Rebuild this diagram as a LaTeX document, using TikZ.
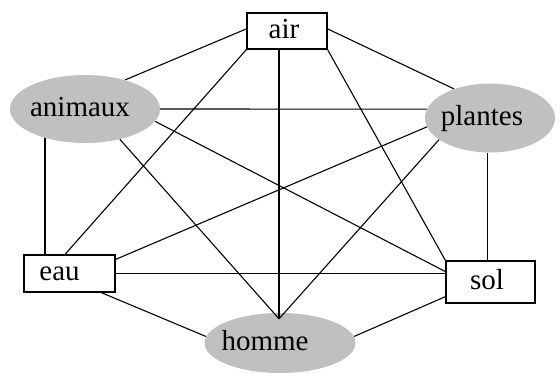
\documentclass[tikz,border=0pt]{standalone}
\usepackage{fontspec}
\setmainfont{Liberation Serif}
\usetikzlibrary{shapes.geometric}
\definecolor{blobgrey}{RGB}{192,192,192}
\pgfdeclarelayer{edges}
\pgfsetlayers{edges,main}
\begin{document}
\begin{tikzpicture}[x=1pt,y=-1pt,
  every node/.style={font=\fontsize{29}{32}\selectfont, inner sep=0pt,
    text height=20pt, text depth=6pt},
  box/.style={rectangle, draw, line width=1.2pt, fill=white},
  blob/.style={ellipse, fill=blobgrey, draw=none},
  link/.style={line width=1.1pt}]
\useasboundingbox (0,0) rectangle (560,378);

% the six elements
\node[box, minimum width=80pt, minimum height=36pt] (air) at (287,31) {\hspace*{-6pt}air};
\node[blob, minimum width=150pt, minimum height=68pt] (animaux) at (85,109) {\hspace*{-10pt}animaux};
\node[blob, minimum width=130pt, minimum height=69pt] (plantes) at (490,118) {\hspace*{-16pt}plantes};
\node[box, minimum width=91pt, minimum height=37pt] (eau) at (69.5,273.5) {\hspace*{-20pt}eau};
\node[box, minimum width=89pt, minimum height=42pt] (sol) at (490.5,282) {\hspace*{-7pt}sol};
\node[blob, minimum width=151pt, minimum height=60pt] (homme) at (280,343) {\hspace*{-30pt}homme};

% every pair is linked
\begin{pgfonlayer}{edges}
\draw[link] (air.177) -- (animaux.36);
\draw[link] (air.3) -- (plantes.141);
\draw[link] (air.south west) -- ([xshift=-4.5pt]eau.north);
\draw[link] (air.south east) -- (sol.north west);
\draw[link] (animaux.east) -- (plantes.172);
\draw[link] ([xshift=-40pt]animaux.center) -- ([xshift=-24.5pt]eau.north);
\draw[link] (animaux.-10) -- (sol.167);
\draw[link] ([xshift=-2.5pt]plantes.south) -- ([xshift=-3pt]sol.north);
\draw[link] (plantes.188) -- (eau.17);
\draw[link] (eau.east) -- (eau.east -| sol.west);
\draw[link] (eau.-31) -- (homme.175);
\draw[link] (sol.198) -- (homme.5);
\end{pgfonlayer}

% the three links that meet just inside the top of "homme"
\coordinate (hn) at ([xshift=-1pt,yshift=-6pt]homme.north);
\draw[link] ([xshift=-8pt]air.south) -- (hn);
\draw[link] (animaux.-41) -- (hn);
\draw[link] (plantes.203) -- (hn);
\end{tikzpicture}
\end{document}
